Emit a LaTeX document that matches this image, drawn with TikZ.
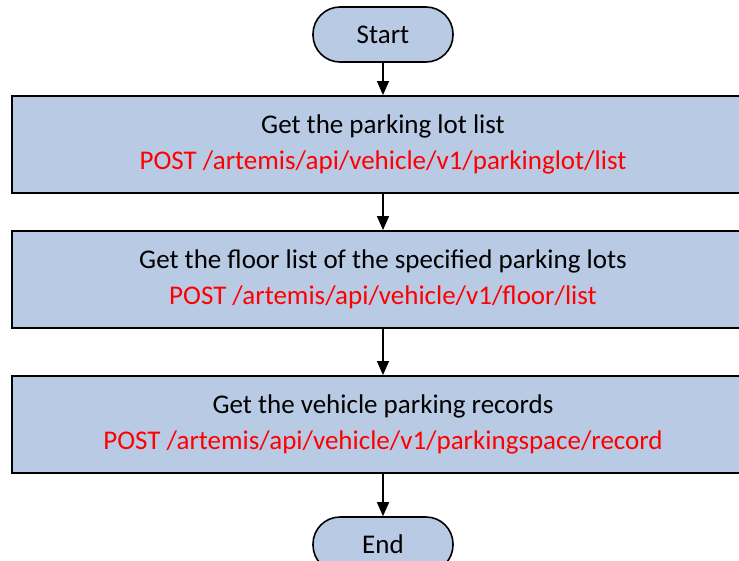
\documentclass[tikz,border=0pt]{standalone}
\usepackage{fontspec}
\setmainfont{Carlito}
\usetikzlibrary{arrows.meta}
\definecolor{boxblue}{RGB}{185,203,228}
\tikzstyle{terminal}=[shape = rectangle, rounded corners = 27pt, minimum width = 140pt, minimum height = 55pt, draw, line width = 1.6pt, fill = boxblue, font = \fontsize{27}{32}\selectfont]
\tikzstyle{stepbox}=[shape = rectangle, minimum width = 742pt, minimum height = 97pt, draw, line width = 2pt, fill = boxblue, align = center, font = \fontsize{27}{36}\selectfont]
\tikzstyle{flow}=[-{Triangle[length=14pt, width=12pt]}, line width = 1.5pt]

\begin{document}
\begin{tikzpicture}[x = 1pt, y = -1pt]
\useasboundingbox (0,0) rectangle (739,560);
\node[terminal] (start) at (383, 34.5) {Start};
\node[stepbox] (lots) at (383, 144.5) {Get the parking lot list\\ \textcolor{red}{POST /artemis/api/vehicle/v1/parkinglot/list}};
\node[stepbox] (floors) at (383, 279.5) {Get the floor list of the specified parking lots\\ \textcolor{red}{POST /artemis/api/vehicle/v1/floor/list}};
\node[stepbox] (records) at (383, 424.5) {Get the vehicle parking records\\ \textcolor{red}{POST /artemis/api/vehicle/v1/parkingspace/record}};
\node[terminal] (end) at (383, 544.5) {End};
\draw[flow] (start) -- (lots);
\draw[flow] (lots) -- (floors);
\draw[flow] (floors) -- (records);
\draw[flow] (records) -- (end);
\end{tikzpicture}
\end{document}
